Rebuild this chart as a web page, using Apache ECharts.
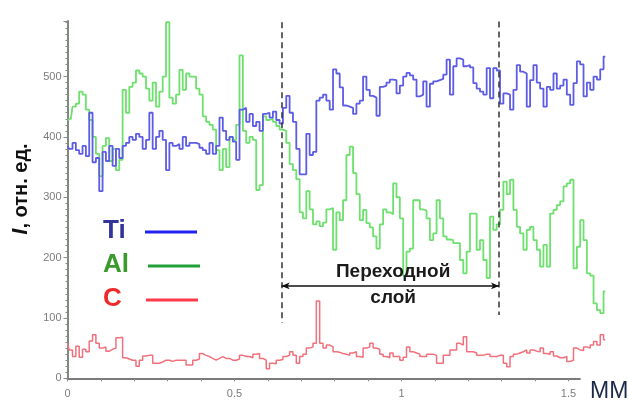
<!DOCTYPE html>
<html>
<head>
<meta charset="utf-8">
<script src="https://cdn.jsdelivr.net/npm/echarts@6/dist/echarts.min.js"></script>
<style>
  html, body { margin: 0; padding: 0; background: #ffffff; }
  #chart { width: 628px; height: 404px; }
</style>
</head>
<body>
<div id="chart"></div>
<script>
// Depth profile sampling step, mm
const STEP_MM = 0.01;

// Ti intensity, one value per 0.01 mm
const tiValues = [
  385, 380, 390, 378, 372, 385, 368, 440, 358, 365,
  310, 375, 360, 385, 352, 380, 365, 385, 390, 400,
  395, 405, 400, 380, 395, 440, 380, 400, 410, 395,
  345, 390, 385, 388, 380, 400, 385, 390, 390, 388,
  382, 378, 372, 390, 372, 385, 432, 410, 395, 400,
  392, 362, 445, 448, 425, 438, 418, 425, 410, 438,
  440, 432, 442, 428, 422, 448, 468, 440, 425, 380,
  338, 338, 405, 370, 375, 460, 465, 470, 460, 445,
  512, 505, 482, 452, 450, 448, 438, 455, 460, 500,
  478, 468, 465, 435, 483, 485, 490, 495, 494, 472,
  485, 500, 506, 502, 495, 467, 470, 492, 450, 488,
  492, 494, 496, 503, 528, 470, 517, 530, 528, 517,
  519, 515, 489, 480, 475, 470, 514, 464, 514, 510,
  455, 472, 470, 445, 478, 519, 508, 505, 450, 494,
  519, 490, 480, 450, 483, 478, 505, 480, 485, 495,
  470, 453, 489, 525, 520, 467, 490, 478, 500, 495,
  512, 533
];

// Al intensity
const alValues = [
  428, 430, 450, 455, 475, 470, 445, 428, 400, 372,
  335, 385, 398, 360, 380, 345, 362, 478, 440, 483,
  490, 510, 505, 500, 480, 460, 490, 450, 475, 500,
  590, 465, 455, 470, 511, 478, 505, 500, 500, 480,
  470, 434, 425, 420, 412, 378, 345, 380, 350, 400,
  395, 420, 535, 410, 390, 400, 395, 312, 320, 434,
  428, 430, 425, 418, 412, 410, 390, 355, 345, 330,
  275, 265, 310, 280, 255, 260, 252, 258, 280, 282,
  213, 275, 262, 295, 370, 384, 340, 305, 262, 279,
  257, 250, 235, 215, 255, 280, 275, 272, 323, 300,
  265, 170, 210, 215, 295, 295, 280, 278, 265, 229,
  240, 295, 265, 235, 230, 229, 224, 224, 196, 174,
  210, 273, 273, 213, 229, 196, 166, 268, 246, 255,
  279, 326, 305, 329, 279, 251, 240, 213, 246, 251,
  229, 213, 185, 221, 185, 273, 279, 287, 293, 318,
  323, 329, 182, 218, 262, 229, 174, 170, 124, 113,
  108, 144
];

// C intensity
const cValues = [
  58, 47, 36, 53, 35, 48, 44, 62, 72, 58,
  50, 52, 45, 48, 50, 67, 68, 34, 32, 30,
  30, 20, 30, 37, 38, 38, 25, 25, 27, 30,
  30, 28, 30, 30, 30, 30, 22, 22, 30, 32,
  41, 38, 36, 33, 30, 33, 36, 33, 33, 30,
  30, 32, 38, 36, 36, 34, 40, 41, 33, 30,
  16, 25, 24, 30, 31, 36, 38, 44, 38, 25,
  36, 40, 50, 52, 58, 128, 58, 50, 55, 52,
  44, 43, 41, 40, 38, 42, 44, 36, 35, 50,
  52, 58, 50, 48, 40, 36, 34, 42, 36, 36,
  30, 35, 52, 44, 42, 40, 36, 36, 40, 40,
  38, 25, 25, 38, 38, 47, 47, 58, 55, 69,
  44, 44, 42, 38, 38, 40, 40, 36, 36, 38,
  38, 25, 19, 36, 40, 42, 44, 47, 42, 47,
  45, 44, 50, 41, 40, 44, 37, 34, 34, 36,
  28, 30, 50, 47, 46, 52, 50, 55, 61, 55,
  72, 64
];

const seriesNames = ['Ti', 'Al', 'C'];
const xLabelValues = [0, 0.5, 1, 1.5];
const xTickLabels = ['0', '0.5', '1', '1.5'];
const xMinorTickValues = [0, 0.1, 0.2, 0.3, 0.4, 0.5, 0.6, 0.7, 0.8, 0.9, 1.0, 1.1, 1.2, 1.3, 1.4, 1.5];
// Boundaries of the transition layer, mm
const layerBounds = [0.641, 1.292];
const layerCaption = ['Переходной', 'слой'];

// ---- layout ----
const FONT = '"Liberation Sans", Arial, sans-serif';
const PX_PER_MM = 334;
const LEFT = 67.5;
const TOP = 21;
const BOTTOM = 25.7;
const X_DATA_MAX = 1.62;   // profile runs a bit past the drawn axis
const X_AXIS_MAX = 1.534;
const Y_MAX = 592;

const toPairs = vals => vals.map((v, i) => [Math.round(i * STEP_MM * 100) / 100, v]);

const chart = echarts.init(document.getElementById('chart'), null, { renderer: 'canvas' });

const profileSeries = (name, vals, color, width, z) => ({
  name, type: 'line', xAxisIndex: 0, yAxisIndex: 0,
  step: 'middle', symbol: 'none', clip: false, z,
  lineStyle: { color, width },
  emphasis: { disabled: true },
  data: toPairs(vals)
});

const legendRows = [
  { name: seriesNames[0], text: '#33349a', line: '#2222ee', y: 232, x0: 145 },
  { name: seriesNames[1], text: '#3a9a2c', line: '#22a038', y: 266, x0: 148 },
  { name: seriesNames[2], text: '#ee2a2a', line: '#ff3a4a', y: 300, x0: 146 }
];

const graphics = [];
legendRows.forEach(r => {
  graphics.push({
    type: 'text', left: 103, top: r.y - 14, silent: true,
    style: { text: r.name, font: 'bold 26px ' + FONT, fill: r.text }
  });
  graphics.push({
    type: 'line', silent: true,
    shape: { x1: r.x0, y1: r.y, x2: r.x0 + 52, y2: r.y },
    style: { stroke: r.line, lineWidth: 3 }
  });
});
graphics.push({
  type: 'text', x: 21, y: 189, rotation: Math.PI / 2, silent: true,
  style: {
    text: '{i|I}, отн. ед.',
    font: 'bold 20px ' + FONT,
    fill: '#111111', align: 'center', verticalAlign: 'middle',
    rich: { i: { fontStyle: 'italic', fontWeight: 'bold', fontSize: 22, fontFamily: FONT, fill: '#111111' } }
  }
});
graphics.push({
  type: 'text', left: 590, top: 380, silent: true,
  style: { text: 'ММ', font: '23px ' + FONT, fill: '#1b2a4a' }
});

const option = {
  animation: false,
  backgroundColor: '#ffffff',
  grid: [
    { left: LEFT, top: TOP, bottom: BOTTOM, right: 628 - LEFT - X_DATA_MAX * PX_PER_MM },
    { left: LEFT, top: TOP, bottom: BOTTOM, right: 628 - LEFT - X_AXIS_MAX * PX_PER_MM }
  ],
  xAxis: [
    { gridIndex: 0, type: 'value', min: 0, max: X_DATA_MAX, show: false },
    {
      gridIndex: 1, type: 'value', min: 0, max: X_AXIS_MAX,
      axisLine: { show: true, onZero: false, lineStyle: { color: '#7a7a7a', width: 2 } },
      axisTick: { show: true, length: 3, customValues: xMinorTickValues, lineStyle: { color: '#8a8a8a', width: 1 } },
      axisLabel: {
        show: true, customValues: xLabelValues, margin: 10,
        color: '#7c7c7c', fontSize: 11, fontFamily: FONT,
        formatter: v => xTickLabels[xLabelValues.findIndex(t => Math.abs(t - v) < 1e-6)] || ''
      },
      splitLine: { show: false }
    }
  ],
  yAxis: [
    {
      gridIndex: 0, type: 'value', min: 0, max: Y_MAX, interval: 100,
      axisLine: { show: true, onZero: false, lineStyle: { color: '#7d8b7d', width: 2 } },
      axisTick: { show: true, length: 4, lineStyle: { color: '#8a8a8a' } },
      minorTick: { show: true, splitNumber: 10, length: 2, lineStyle: { color: '#8a8a8a' } },
      axisLabel: { color: '#7c7c7c', fontSize: 11, fontFamily: FONT, margin: 6, showMaxLabel: false },
      splitLine: { show: false }, minorSplitLine: { show: false }
    },
    { gridIndex: 1, type: 'value', min: 0, max: Y_MAX, show: false }
  ],
  series: [
    profileSeries(seriesNames[2], cValues, '#f2707c', 1.5, 2),
    profileSeries(seriesNames[1], alValues, '#6ee06e', 1.8, 3),
    profileSeries(seriesNames[0], tiValues, '#5c5ce6', 1.8, 4),
    {
      name: 'layer', type: 'line', xAxisIndex: 0, yAxisIndex: 0, data: [], z: 5,
      markLine: {
        silent: true, animation: false,
        symbol: ['none', 'none'],
        label: { show: false },
        lineStyle: { color: '#333333', width: 1.5, type: [6, 4] },
        data: [
          [{ coord: [layerBounds[0], 590] }, { coord: [layerBounds[0], 92] }],
          [{ coord: [layerBounds[1], 591] }, { coord: [layerBounds[1], 105] }],
          [
            { coord: [layerBounds[0], 153], symbol: 'arrow', symbolSize: [5, 8],
              lineStyle: { color: '#111111', width: 1.5, type: 'solid' } },
            { coord: [layerBounds[1], 153], symbol: 'arrow', symbolSize: [5, 8] }
          ]
        ]
      },
      markPoint: {
        silent: true, animation: false,
        symbol: 'rect', symbolSize: 1,
        itemStyle: { color: 'rgba(0,0,0,0)' },
        label: {
          show: true, position: 'inside',
          formatter: layerCaption.join('\n'),
          fontSize: 19, fontWeight: 'bold', fontFamily: FONT,
          color: '#1a1a1a', lineHeight: 26
        },
        data: [{ coord: [0.975, 155] }]
      }
    }
  ],
  graphic: graphics
};

chart.setOption(option);
</script>
</body>
</html>
